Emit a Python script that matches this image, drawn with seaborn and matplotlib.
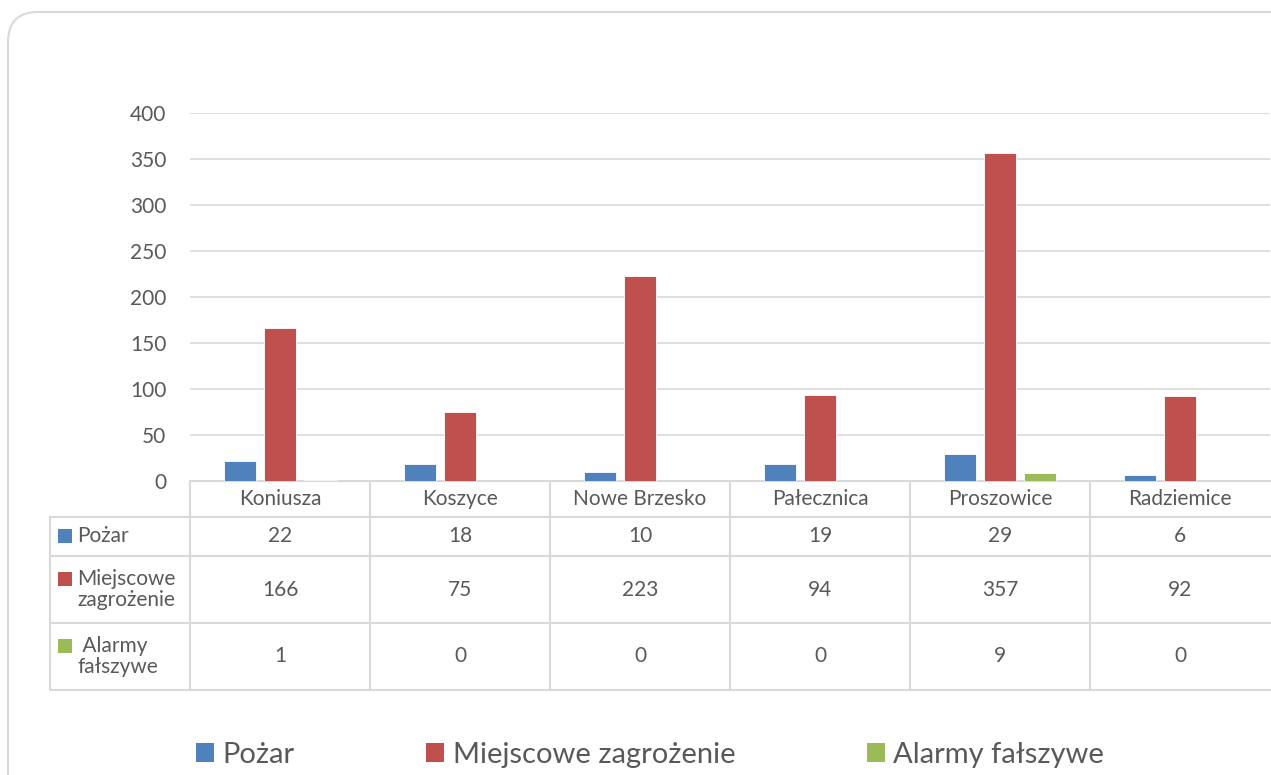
"""
Interwencje straży pożarnej w gminach powiatu - wykres słupkowy z tabelą danych
"""
import numpy as np
import pandas as pd
import matplotlib
matplotlib.use('Agg')
import matplotlib.pyplot as plt
import seaborn as sns
from matplotlib.patches import FancyBboxPatch, Rectangle, Patch

# dane
gminy = ['Koniusza', 'Koszyce', 'Nowe Brzesko', 'Pałecznica', 'Proszowice', 'Radziemice']
pozar = [22, 18, 10, 19, 29, 6]
miejscowe = [166, 75, 223, 94, 357, 92]
alarmy = [1, 0, 0, 0, 9, 0]

serie = ['Pożar', 'Miejscowe zagrożenie', 'Alarmy fałszywe']
etykiety_tabeli = ['Pożar', 'Miejscowe\nzagrożenie', ' Alarmy\nfałszywe']
kolory = ['#4F81BD', '#C0504D', '#9BBB59']
yticks = list(range(0, 401, 50))

sns.set_theme(style='white')
plt.rcParams['font.family'] = ['Lato', 'DejaVu Sans']

SZARY = '#595959'
LINIA = '#d9d9d9'

df = pd.DataFrame({
    'gmina': gminy * 3,
    'seria': np.repeat(serie, len(gminy)),
    'wartosc': pozar + miejscowe + alarmy,
})

W, H = 1271, 775
fig = plt.figure(figsize=(W / 100, H / 100), dpi=100)

# tło z zaokrągloną ramką (współrzędne w pikselach)
bg = fig.add_axes([0, 0, 1, 1], zorder=-1)
bg.set_xlim(0, W)
bg.set_ylim(H, 0)
bg.axis('off')
bg.add_patch(FancyBboxPatch((8, 12), 1300, 800,
                            boxstyle='round,pad=0,rounding_size=30',
                            fc='white', ec=LINIA, lw=1.5))

# wykres
top_px, base_px, left_px = 113, 481, 190
ax = fig.add_axes([left_px / W, 1 - base_px / H, 1080 / W, (base_px - top_px) / H])
ax.patch.set_alpha(0)
sns.barplot(data=df, x='gmina', y='wartosc', hue='seria', order=gminy,
            hue_order=serie, palette=kolory, saturation=1, width=0.667, gap=0.22,
            edgecolor='white', linewidth=0.6, ax=ax, legend=False, zorder=3)
ax.set_xlim(-0.5, len(gminy) - 0.5)
ax.set_ylim(0, 400)
ax.set_yticks(yticks)
ax.yaxis.grid(True, color=LINIA, lw=1.2, zorder=0)
ax.set_axisbelow(True)
for s in ax.spines.values():
    s.set_visible(False)
ax.set_xlabel('')
ax.set_ylabel('')
ax.set_xticks([])
ax.tick_params(axis='y', length=0, pad=17, labelsize=15, labelcolor=SZARY)

# tabela danych pod wykresem
tr = ax.get_xaxis_transform()
h_ax = base_px - top_px


def fy(px):
    return (base_px - px) / h_ax


def fx(px):
    return -0.5 + (px - left_px) / 180


wiersze = [481, 517, 556, 623, 690]
x_lewy = fx(50)
x_prawy = len(gminy) - 0.5 + 0.2
kw = dict(transform=tr, clip_on=False, color=LINIA, lw=1.5)

ax.plot([-0.5, x_prawy], [fy(481), fy(481)], **kw)
for y in wiersze[1:]:
    ax.plot([x_lewy, x_prawy], [fy(y), fy(y)], **kw)
ax.plot([x_lewy, x_lewy], [fy(517), fy(690)], **kw)
for i in range(len(gminy)):
    ax.plot([i - 0.5, i - 0.5], [fy(481), fy(690)], **kw)

txt = dict(transform=tr, clip_on=False, color=SZARY, fontsize=15,
           ha='center', va='center')
for i, g in enumerate(gminy):
    ax.text(i, fy(499), g, **txt)

srodki = [536, 589.5, 656.5]
for r, (wart, et, kol) in enumerate(zip([pozar, miejscowe, alarmy], etykiety_tabeli, kolory)):
    yc = srodki[r]
    for i, v in enumerate(wart):
        ax.text(i, fy(yc), str(v), **txt)
    linie = et.split('\n')
    if len(linie) == 1:
        sq_y = yc
        ax.text(fx(77), fy(yc), linie[0], transform=tr, clip_on=False,
                color=SZARY, fontsize=15, ha='left', va='center')
    else:
        sq_y = yc - 10.5
        ax.text(fx(77), fy(yc - 10.5), linie[0], transform=tr, clip_on=False,
                color=SZARY, fontsize=15, ha='left', va='center')
        ax.text(fx(77), fy(yc + 10.5), linie[1], transform=tr, clip_on=False,
                color=SZARY, fontsize=15, ha='left', va='center')
    bg.add_patch(Rectangle((58, sq_y - 7), 14, 14, fc=kol, ec='none'))

# legenda
uchwyty = [Patch(fc=k, ec='none') for k in kolory]
leg = fig.legend(uchwyty, serie, ncol=3, loc='center',
                 bbox_to_anchor=(650 / W, 1 - 755 / H), frameon=False,
                 fontsize=21, handlelength=0.62, handleheight=0.62,
                 handletextpad=0.3, columnspacing=4.5)
for t in leg.get_texts():
    t.set_color(SZARY)

fig.savefig('out.png', dpi=100)
